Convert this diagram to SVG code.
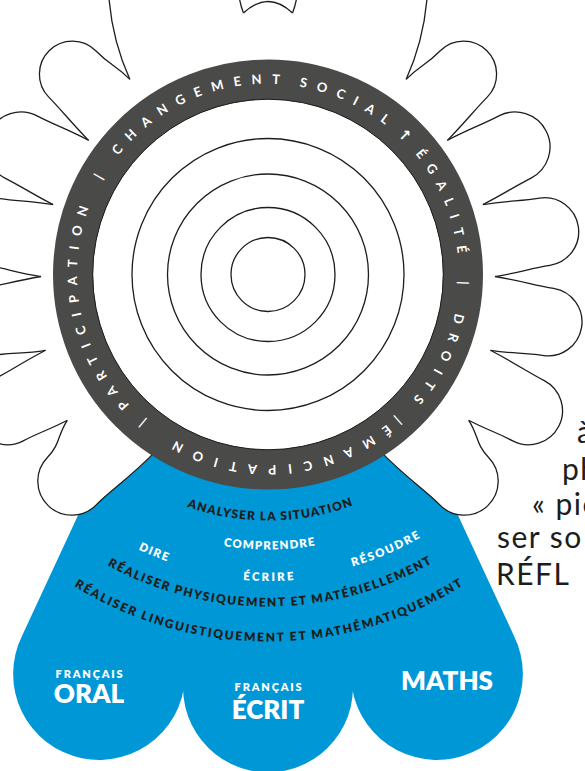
<svg xmlns="http://www.w3.org/2000/svg" width="585" height="771" viewBox="0 0 585 771">
<style>
.petal{fill:#fff;stroke:#1d1d1b;stroke-width:1.3}
.circ{fill:none;stroke:#1d1d1b;stroke-width:1.3}
.rt{font-family:Lato,"Noto Sans",sans-serif;font-size:13px;font-weight:700;fill:#fff}
.arr{font-family:"DejaVu Sans",sans-serif;font-size:15px;font-weight:700}
.bk{font-family:Lato,"Noto Sans",sans-serif;font-size:12px;font-weight:800;fill:#1d1d1b}
.wt{font-family:Lato,"Noto Sans",sans-serif;font-size:11.5px;font-weight:800;fill:#fff}
.big{font-family:Lato,"Noto Sans",sans-serif;font-size:26px;font-weight:800;fill:#fff}
.sm{font-family:Lato,"Noto Sans",sans-serif;font-size:11px;font-weight:800;fill:#fff;letter-spacing:1.8px}
.side{font-family:Lato,"Noto Sans",sans-serif;font-size:30px;fill:#1d1d1b;letter-spacing:1.5px}
</style>
<defs>
<path id="ringPath" d="M161.75,432.01 A190,190 0 1,1 374.25,116.99 A190,190 0 1,1 161.75,432.01"/>
<path id="r246" d="M268,28.5 A246,246 0 1,0 268,520.5 A246,246 0 1,0 268,28.5"/>
<path id="r275" d="M268,-0.5 A275,275 0 1,0 268,549.5 A275,275 0 1,0 268,-0.5"/>
<path id="r304" d="M268,-29.5 A304,304 0 1,0 268,578.5 A304,304 0 1,0 268,-29.5"/>
<path id="r306" d="M268,-32 A306.5,306.5 0 1,0 268,581 A306.5,306.5 0 1,0 268,-32"/>
<path id="r332" d="M268,-57.5 A332,332 0 1,0 268,606.5 A332,332 0 1,0 268,-57.5"/>
<path id="r367" d="M268,-92.5 A367,367 0 1,0 268,641.5 A367,367 0 1,0 268,-92.5"/>
</defs>

<g id="blue-shape">
<path fill="#0097d7" d="M150,440 L80,511 L22.1,635.7 A86,86 0 1,0 185,669 A85,85 0 1,0 351,669 A86,86 0 1,0 513.9,635.7 L456,511 L386,440 Z"/>
</g>

<g id="petals">
<path class="petal" d="M243.5,13 Q268,-10 292.5,13"/>
<g id="petals-right">
<path class="petal" d="M292.5,13 C296,4 298,-4 298,-25 L428,-25 C428,5 424,40 406.1,79.5"/>
<path class="petal" transform="translate(463.6 74.1) rotate(44.3)" d="M-37.4,43.9 C-37.4,24 -33,20 -33,0 A33,33 0 0,1 33,0 C33,20 34.7,32 34.7,58.7"/>
<path class="petal" transform="translate(515 147) rotate(62.7)" d="M-37,57.1 C-37,31 -35,21 -35,0 A35,35 0 0,1 35,0 C35,21 36.5,30 36.5,55"/>
<path class="petal" transform="translate(544.7 231.7) rotate(81.2)" d="M-36.1,56.9 C-36.1,31 -34,20 -34,0 A34,34 0 0,1 34,0 C34,20 36.7,31 36.7,56"/>
<path class="petal" transform="translate(548 321.9) rotate(99.6)" d="M-35.9,59.9 C-35.9,33 -34,20 -34,0 A34,34 0 0,1 34,0 C34,20 37.6,29 37.6,52"/>
<path class="petal" transform="translate(528.5 410.7) rotate(117.6)" d="M-35.9,61.8 C-35.9,34 -34,20 -34,0 A34,34 0 0,1 34,0 C34,20 36.2,27 36.2,48.7"/>
<path class="petal" transform="translate(464.2 481.2) rotate(136.5)" d="M-45.2,41.1 C-42,23 -34,20 -34,0 A34,34 0 0,1 34,0 C34,20 40.2,44 40.2,79.9"/>
</g>
<g id="petals-left" transform="matrix(-1 0 0 1 536 0)">
<path class="petal" d="M292.5,13 C296,4 298,-4 298,-25 L428,-25 C428,5 424,40 406.1,79.5"/>
<path class="petal" transform="translate(463.6 74.1) rotate(44.3)" d="M-37.4,43.9 C-37.4,24 -33,20 -33,0 A33,33 0 0,1 33,0 C33,20 34.7,32 34.7,58.7"/>
<path class="petal" transform="translate(515 147) rotate(62.7)" d="M-37,57.1 C-37,31 -35,21 -35,0 A35,35 0 0,1 35,0 C35,21 36.5,30 36.5,55"/>
<path class="petal" transform="translate(544.7 231.7) rotate(81.2)" d="M-36.1,56.9 C-36.1,31 -34,20 -34,0 A34,34 0 0,1 34,0 C34,20 36.7,31 36.7,56"/>
<path class="petal" transform="translate(548 321.9) rotate(99.6)" d="M-35.9,59.9 C-35.9,33 -34,20 -34,0 A34,34 0 0,1 34,0 C34,20 37.6,29 37.6,52"/>
<path class="petal" transform="translate(528.5 410.7) rotate(117.6)" d="M-35.9,61.8 C-35.9,34 -34,20 -34,0 A34,34 0 0,1 34,0 C34,20 36.2,27 36.2,48.7"/>
<path class="petal" transform="translate(464.2 481.2) rotate(136.5)" d="M-45.2,41.1 C-42,23 -34,20 -34,0 A34,34 0 0,1 34,0 C34,20 40.2,44 40.2,79.9"/>
</g>
</g>

<g id="ring">
<circle cx="268" cy="274.5" r="176" fill="#fff"/>
<circle cx="268" cy="274.5" r="195" fill="none" stroke="#4a4a49" stroke-width="40"/>
<circle cx="268" cy="274.5" r="175.3" fill="none" stroke="#1d1d1b" stroke-width="1"/>
</g>

<g id="circles">
<circle class="circ" cx="268" cy="274.5" r="136"/>
<circle class="circ" cx="268" cy="274.5" r="100.5"/>
<circle class="circ" cx="268" cy="274.5" r="67"/>
<circle class="circ" cx="268" cy="274.5" r="37"/>
</g>

<g id="ring-text" class="rt" text-anchor="middle">
<text><textPath href="#ringPath" startOffset="20.6">|</textPath></text>
<text><textPath href="#ringPath" startOffset="148.2" textLength="212" lengthAdjust="spacing">PARTICIPATION</textPath></text>
<text><textPath href="#ringPath" startOffset="286.2">|</textPath></text>
<text><textPath href="#ringPath" startOffset="406.1" textLength="184" lengthAdjust="spacing">CHANGEMENT</textPath></text>
<text><textPath href="#ringPath" startOffset="565.1" textLength="95" lengthAdjust="spacing">SOCIAL</textPath></text>
<text class="arr"><textPath href="#ringPath" startOffset="634">↑</textPath></text>
<text><textPath href="#ringPath" startOffset="709.3" textLength="110" lengthAdjust="spacing">ÉGALITÉ</textPath></text>
<text><textPath href="#ringPath" startOffset="793.5">|</textPath></text>
<text><textPath href="#ringPath" startOffset="872.6" textLength="97" lengthAdjust="spacing">DROITS</textPath></text>
<text><textPath href="#ringPath" startOffset="946.4">|</textPath></text>
<text><textPath href="#ringPath" startOffset="1069.6" textLength="225" lengthAdjust="spacing">ÉMANCIPATION</textPath></text>
</g>

<g id="blue-labels" text-anchor="middle">
<text class="bk"><textPath href="#r246" startOffset="774.7" textLength="169" lengthAdjust="spacing">ANALYSER LA SITUATION</textPath></text>
<text class="wt"><textPath href="#r275" startOffset="864.9" textLength="92" lengthAdjust="spacing">COMPRENDRE</textPath></text>
<text class="wt"><textPath href="#r304" startOffset="836.1" textLength="31" lengthAdjust="spacing">DIRE</textPath></text>
<text class="wt"><textPath href="#r304" startOffset="1077.2" textLength="74" lengthAdjust="spacing">RÉSOUDRE</textPath></text>
<text class="wt"><textPath href="#r306" startOffset="962.9" textLength="51" lengthAdjust="spacing">ÉCRIRE</textPath></text>
<text class="bk"><textPath href="#r332" startOffset="1044.7" textLength="339" lengthAdjust="spacing">RÉALISER PHYSIQUEMENT ET MATÉRIELLEMENT</textPath></text>
<text class="bk"><textPath href="#r367" startOffset="1153" textLength="410" lengthAdjust="spacing">RÉALISER LINGUISTIQUEMENT ET MATHÉMATIQUEMENT</textPath></text>
<text class="sm" x="90" y="678">FRANÇAIS</text>
<text class="big" x="89" y="703">ORAL</text>
<text class="sm" x="269" y="691">FRANÇAIS</text>
<text class="big" x="268" y="719">ÉCRIT</text>
<text class="big" x="447" y="690">MATHS</text>
</g>

<g id="side-text" class="side">
<text x="577" y="443">à</text>
<text x="562" y="480">ph</text>
<text x="532" y="515">« pie</text>
<text x="497" y="548">ser so</text>
<text x="496" y="585">RÉFL</text>
</g>
</svg>
